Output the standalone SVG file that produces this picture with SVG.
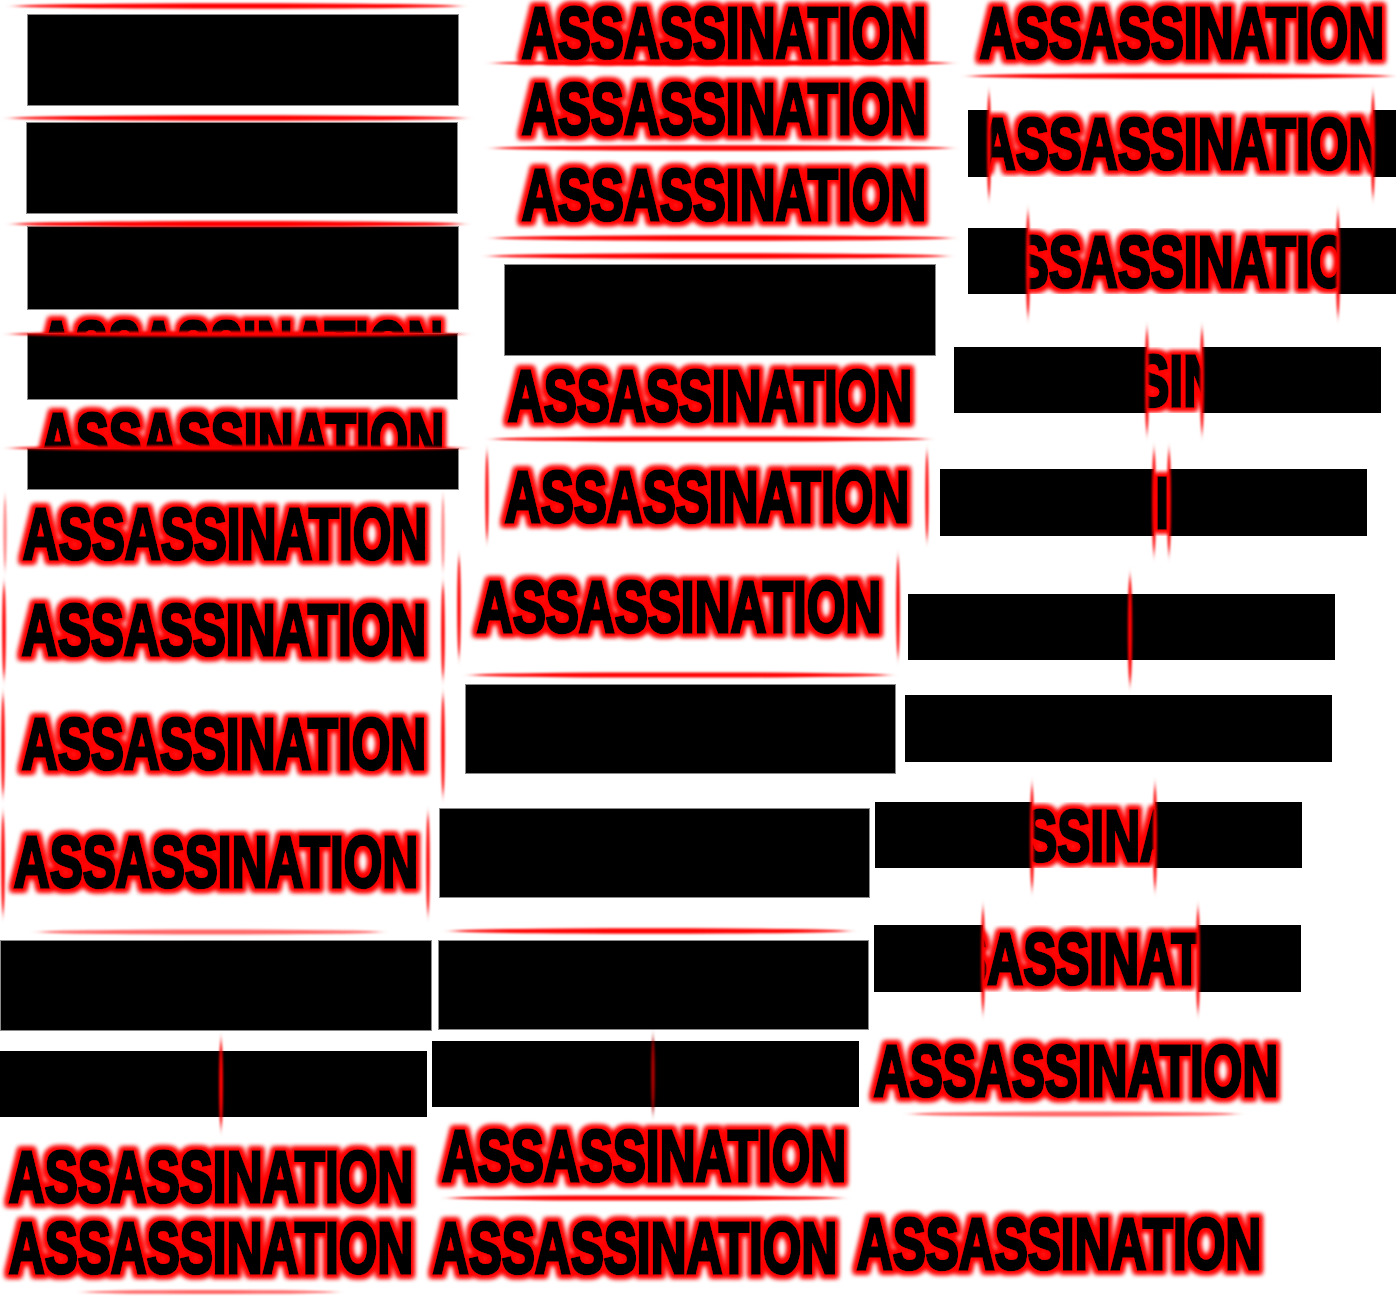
<svg xmlns="http://www.w3.org/2000/svg" xmlns:xlink="http://www.w3.org/1999/xlink" width="1396" height="1298" viewBox="0 0 1396 1298">
<style>
.w{font-family:"Liberation Sans","Arial",sans-serif;font-weight:bold;font-size:72px;fill:#000;stroke:#000;stroke-width:3.6;stroke-linejoin:miter}
.g{filter:url(#glow)}
.bx{fill:#000;stroke:#8a8a8a;stroke-width:1}
.bk{fill:#000}
.hl{fill:#ff0000;filter:url(#hblur)}
.hf{fill:#ff3030;opacity:.75;filter:url(#hblur)}
.vl{fill:#ff0000;filter:url(#vblur)}
.vf{fill:#ff2020;opacity:.55;filter:url(#vblur)}
.vd{fill:#b00000;filter:url(#vblur)}
.wh{fill:#fff}
</style>
<defs>
<filter id="glow" x="-5%" y="-40%" width="110%" height="180%">
<feMorphology in="SourceAlpha" operator="dilate" radius="2.5" result="d"/>
<feGaussianBlur in="d" stdDeviation="2.8" result="b"/>
<feFlood flood-color="#ff0000"/>
<feComposite in2="b" operator="in" result="gl"/>
<feMerge><feMergeNode in="gl"/><feMergeNode in="gl"/><feMergeNode in="SourceGraphic"/></feMerge>
</filter>
<filter id="hblur" x="-10%" y="-300%" width="120%" height="700%">
<feGaussianBlur stdDeviation="6 1"/>
</filter>
<filter id="vblur" x="-300%" y="-10%" width="700%" height="120%">
<feGaussianBlur stdDeviation="0.9 5"/>
</filter>
<g id="w"><text class="w" x="1.8" y="54.3" textLength="404.4" lengthAdjust="spacingAndGlyphs">ASSASSINATION</text></g>
<clipPath id="c32"><rect x="989" y="110" width="384" height="67"/></clipPath>
<clipPath id="c33"><rect x="1028" y="228" width="310" height="66"/></clipPath>
<clipPath id="c34"><rect x="1147" y="347" width="55" height="66"/></clipPath>
<clipPath id="c35"><rect x="1154" y="469" width="15" height="67"/></clipPath>
<clipPath id="c38"><rect x="1032" y="802" width="123" height="66"/></clipPath>
<clipPath id="c39"><rect x="983" y="925" width="215" height="67"/></clipPath>
</defs>
<rect width="1396" height="1298" fill="#fff"/>

<!-- Column 1 -->
<g id="c1f1"><rect class="bx" x="27.5" y="14.5" width="431" height="91"/><ellipse class="hl" cx="237" cy="6" rx="222" ry="2.8"/></g>
<g id="c1f2"><rect class="bx" x="26.5" y="122.5" width="431" height="91"/><ellipse class="hl" cx="237" cy="118" rx="226" ry="2.8"/></g>
<g id="c1f3"><rect class="bx" x="27.5" y="226.5" width="431" height="83"/><ellipse class="hl" cx="238" cy="224" rx="224" ry="3"/></g>
<g id="c1f4"><use href="#w" class="g" x="37" y="318"/><rect class="bx" x="27.5" y="333.5" width="430" height="66"/><ellipse class="hl" cx="237" cy="334" rx="226" ry="2.8"/></g>
<g id="c1f5"><use href="#w" class="g" x="38" y="410"/><rect class="bx" x="27.5" y="448.5" width="431" height="41"/><ellipse class="hl" cx="237" cy="448" rx="226" ry="2.8"/></g>
<g id="c1f6"><use href="#w" class="g" x="21" y="505"/><ellipse class="vf" cx="5" cy="533" rx="1.6" ry="36"/><ellipse class="vf" cx="443" cy="533" rx="1.6" ry="36"/></g>
<g id="c1f7"><use href="#w" class="g" x="20" y="601"/><ellipse class="vl" cx="4" cy="631" rx="1.8" ry="47"/><ellipse class="vl" cx="443" cy="631" rx="1.8" ry="47"/></g>
<g id="c1f8"><use href="#w" class="g" x="20" y="715"/><ellipse class="vl" cx="3" cy="745" rx="1.8" ry="50"/><ellipse class="vl" cx="443" cy="745" rx="1.8" ry="50"/></g>
<g id="c1f9"><use href="#w" class="g" x="12" y="833"/><ellipse class="vl" cx="3" cy="864" rx="1.8" ry="50"/><ellipse class="vl" cx="428" cy="864" rx="1.8" ry="50"/></g>
<g id="c1f10"><ellipse class="hf" cx="210" cy="932" rx="170" ry="2.5"/><rect class="bx" x="0.5" y="940.5" width="431" height="90"/></g>
<g id="c1f11"><rect class="bk" x="0" y="1051" width="427" height="66"/><ellipse class="vl" cx="221" cy="1084" rx="2" ry="44"/></g>
<g id="c1f12"><use href="#w" class="g" x="7" y="1148"/></g>
<g id="c1f13"><use href="#w" class="g" x="7" y="1219"/><ellipse class="hf" cx="210" cy="1292" rx="125" ry="2"/></g>

<!-- Column 2 -->
<g id="c2f1"><use href="#w" class="g" x="520" y="4"/><ellipse class="hl" cx="722" cy="63" rx="228" ry="2.8"/></g>
<g id="c2f2"><use href="#w" class="g" x="520" y="80"/><ellipse class="hl" cx="722" cy="148" rx="228" ry="2.8"/></g>
<g id="c2f3"><use href="#w" class="g" x="520" y="166"/><ellipse class="hl" cx="722" cy="238" rx="228" ry="2.8"/><ellipse class="hl" cx="718" cy="256" rx="228" ry="2.8"/></g>
<g id="c2f4"><rect class="bx" x="504.5" y="264.5" width="431" height="91"/></g>
<g id="c2f5"><use href="#w" class="g" x="506" y="367"/><ellipse class="hl" cx="710" cy="439" rx="216" ry="2.6"/></g>
<g id="c2f6"><use href="#w" class="g" x="503" y="468"/><ellipse class="vl" cx="487" cy="496" rx="1.6" ry="44"/><ellipse class="vl" cx="927" cy="496" rx="1.6" ry="44"/></g>
<g id="c2f7"><use href="#w" class="g" x="475" y="578"/><ellipse class="vl" cx="459" cy="607" rx="1.8" ry="50"/><ellipse class="vl" cx="898" cy="607" rx="1.8" ry="50"/><ellipse class="hl" cx="680" cy="675" rx="208" ry="2.6"/></g>
<g id="c2f8"><rect class="bx" x="465.5" y="684.5" width="430" height="89"/></g>
<g id="c2f9"><rect class="bx" x="439.5" y="808.5" width="430" height="89"/></g>
<g id="c2f10"><ellipse class="hl" cx="650" cy="931" rx="198" ry="2.8"/><rect class="bx" x="438.5" y="940.5" width="430" height="89"/></g>
<g id="c2f11"><rect class="bk" x="432" y="1041" width="427" height="66"/><ellipse class="vd" cx="653" cy="1075" rx="1.8" ry="38"/></g>
<g id="c2f12"><use href="#w" class="g" x="440" y="1127"/><ellipse class="hl" cx="645" cy="1198" rx="195" ry="2.6"/></g>
<g id="c2f13"><use href="#w" class="g" x="431" y="1219"/></g>

<!-- Column 3 -->
<g id="c3f1"><use href="#w" class="g" x="978" y="4"/><ellipse class="hl" cx="1180" cy="76" rx="210" ry="2.8"/></g>
<g id="c3f2"><rect class="bk" x="968" y="110" width="428" height="67"/><g clip-path="url(#c32)"><rect class="wh" x="968" y="110" width="428" height="67"/><use href="#w" class="g" x="978" y="115"/></g><ellipse class="vl" cx="989" cy="145" rx="2" ry="52"/><ellipse class="vl" cx="1373" cy="145" rx="2" ry="52"/></g>
<g id="c3f3"><rect class="bk" x="968" y="228" width="428" height="66"/><g clip-path="url(#c33)"><rect class="wh" x="968" y="228" width="428" height="66"/><use href="#w" class="g" x="978" y="233"/></g><ellipse class="vl" cx="1028" cy="264" rx="2" ry="52"/><ellipse class="vl" cx="1338" cy="264" rx="2" ry="52"/></g>
<g id="c3f4"><rect class="bk" x="954" y="347" width="427" height="66"/><g clip-path="url(#c34)"><rect class="wh" x="954" y="347" width="427" height="66"/><use href="#w" class="g" x="963.5" y="352"/></g><ellipse class="vl" cx="1147" cy="381" rx="2" ry="52"/><ellipse class="vl" cx="1202" cy="381" rx="2" ry="52"/></g>
<g id="c3f5"><rect class="bk" x="940" y="469" width="427" height="67"/><g clip-path="url(#c35)"><rect class="wh" x="940" y="469" width="427" height="67"/><use href="#w" class="g" x="949.5" y="474"/></g><ellipse class="vl" cx="1154" cy="502" rx="2" ry="52"/><ellipse class="vl" cx="1169" cy="502" rx="2" ry="52"/></g>
<g id="c3f6"><rect class="bk" x="908" y="594" width="427" height="66"/><ellipse class="vl" cx="1130" cy="630" rx="2.2" ry="54"/></g>
<g id="c3f7"><rect class="bk" x="905" y="695" width="427" height="67"/></g>
<g id="c3f8"><rect class="bk" x="875" y="802" width="427" height="66"/><g clip-path="url(#c38)"><rect class="wh" x="875" y="802" width="427" height="66"/><use href="#w" class="g" x="884.5" y="807"/></g><ellipse class="vl" cx="1032" cy="837" rx="2" ry="52"/><ellipse class="vl" cx="1155" cy="837" rx="2" ry="52"/></g>
<g id="c3f9"><rect class="bk" x="874" y="925" width="427" height="67"/><g clip-path="url(#c39)"><rect class="wh" x="874" y="925" width="427" height="67"/><use href="#w" class="g" x="883.5" y="930"/></g><ellipse class="vl" cx="983" cy="960" rx="2" ry="52"/><ellipse class="vl" cx="1198" cy="960" rx="2" ry="52"/></g>
<g id="c3f10"><use href="#w" class="g" x="872" y="1042"/><ellipse class="hf" cx="1074" cy="1114" rx="162" ry="2.5"/></g>
<g id="c3f11"><use href="#w" class="g" x="855" y="1215"/></g>
</svg>
